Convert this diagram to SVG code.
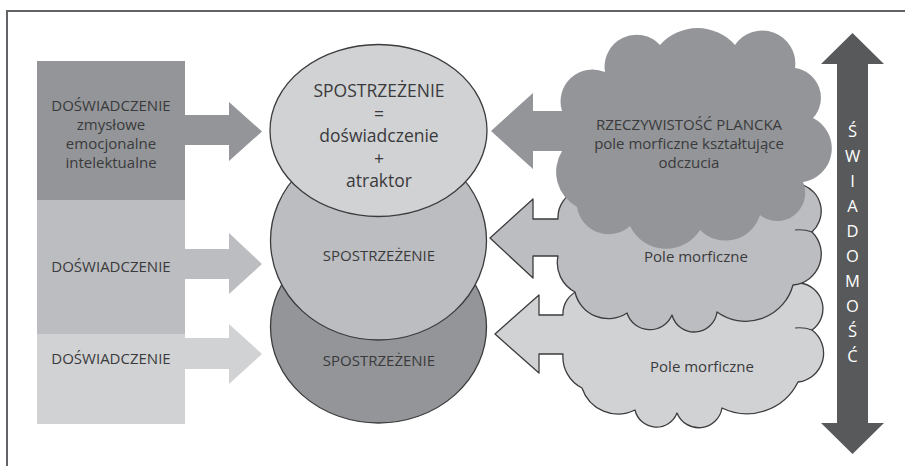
<svg xmlns="http://www.w3.org/2000/svg" width="905" height="466" viewBox="0 0 905 466">
<style>
text{font-family:"Open Sans","Noto Sans","DejaVu Sans",sans-serif;fill:#3a3a3c;text-anchor:middle}
.dk{fill:#939598}
.md{fill:#bcbdc0}
.lt{fill:#d1d2d4}
.ol{stroke:#3c3c3e;stroke-width:1.3;stroke-linejoin:round}
.cusp{fill:none;stroke:#3c3c3e;stroke-width:1.2}
.v{fill:#ffffff;font-size:16.5px}
</style>
<rect width="905" height="466" fill="#ffffff"/>

<g id="box-top">
<rect class="dk" x="37" y="61" width="148" height="139"/>
<text x="111" y="111" font-size="15">DOŚWIADCZENIE</text>
<text x="111" y="130" font-size="15">zmysłowe</text>
<text x="111" y="149" font-size="15">emocjonalne</text>
<text x="111" y="168" font-size="15">intelektualne</text>
</g>
<g id="box-middle">
<rect class="md" x="37" y="200" width="148" height="134"/>
<text x="111" y="271.5" font-size="15">DOŚWIADCZENIE</text>
</g>
<g id="box-bottom">
<rect class="lt" x="37" y="334" width="148" height="90"/>
<text x="111" y="363.5" font-size="15">DOŚWIADCZENIE</text>
</g>

<g id="connectors">
<polygon class="dk" points="184,115 229,115 229,102 262,131.5 229,161 229,145 184,145"/>
<polygon class="md" points="184,249 229,249 229,233 262,264 229,294 229,279 184,279"/>
<polygon class="lt" points="184,338 229,338 229,324 262,354 229,384 229,369 184,369"/>
</g>

<g id="ellipse-bottom">
<ellipse class="dk ol" cx="378.5" cy="327" rx="108" ry="96"/>
<text x="379" y="366" font-size="15">SPOSTRZEŻENIE</text>
</g>
<g id="ellipse-middle">
<ellipse class="md ol" cx="378.5" cy="240.5" rx="108" ry="99.5"/>
<text x="379" y="260.5" font-size="15">SPOSTRZEŻENIE</text>
</g>
<g id="ellipse-top">
<ellipse class="lt ol" cx="378.5" cy="130.5" rx="108.5" ry="86"/>
<text x="379" y="97" font-size="17.5">SPOSTRZEŻENIE</text>
<text x="379" y="119.5" font-size="17.5">=</text>
<text x="379" y="142" font-size="17.5">doświadczenie</text>
<text x="379" y="164.5" font-size="17.5">+</text>
<text x="379" y="187" font-size="17.5">atraktor</text>
</g>

<g id="cloud-bottom">
<path class="lt ol" d="M563,315 H539 V295 L495,334 L539,373 V354 H563 A35,35 0 0 0 582,388 A38,38 0 0 0 635,410 A22,22 0 0 0 677,413 A23.5,23.5 0 0 0 722,408 A57,57 0 0 0 798,382 A29,29 0 0 0 812,330 A26,26 0 0 0 800,283 A70,70 0 0 0 700,268 A70,70 0 0 0 580,290 A25,25 0 0 0 563,315 Z"/>
<path class="cusp" d="M812,330 q-8,-3 -17,-2"/>
<text x="702" y="372" font-size="15">Pole morficzne</text>
</g>
<g id="cloud-middle">
<path class="md ol" d="M558,219 H533 V199 L490,238 L533,278 V256 H558 A33,33 0 0 0 575,292 A34,34 0 0 0 627,313 A24,24 0 0 0 672,315 A23,23 0 0 0 717,312 A49,49 0 0 0 793,285 A31,31 0 0 0 812,232 A28,28 0 0 0 803,185 A60,60 0 0 0 700,172 A70,70 0 0 0 578,190 A29,29 0 0 0 558,219 Z"/>
<path class="cusp" d="M812,232 q-8,-3 -17,-2"/>
<text x="696" y="262" font-size="15">Pole morficzne</text>
</g>
<g id="cloud-top">
<path class="dk" d="M562,111 H533 V93 L491,131 L533,169 V151 H562 A40,40 0 0 0 577,207 A32,32 0 0 0 630,226 A40,40 0 0 0 700,230 A36,36 0 0 0 760,215 A28,28 0 0 0 803,182 A34,34 0 0 0 813,118 A30,30 0 0 0 795,68 A33,33 0 0 0 735,45 A50,50 0 0 0 660,45 A32,32 0 0 0 605,72 A32,32 0 0 0 562,111 Z"/>
<text x="689" y="129.5" font-size="15">RZECZYWISTOŚĆ PLANCKA</text>
<text x="689" y="148.5" font-size="15">pole morficzne kształtujące</text>
<text x="689" y="167.5" font-size="15">odczucia</text>
</g>

<g id="arrow-swiadomosc">
<polygon fill="#58595b" points="852.5,33 884,64 868,64 868,423 884,423 852.5,454 821,423 837,423 837,64 821,64"/>
<text class="v" x="852.5" y="137">Ś</text>
<text class="v" x="852.5" y="162">W</text>
<text class="v" x="852.5" y="187">I</text>
<text class="v" x="852.5" y="212">A</text>
<text class="v" x="852.5" y="237">D</text>
<text class="v" x="852.5" y="262">O</text>
<text class="v" x="852.5" y="287">M</text>
<text class="v" x="852.5" y="312">O</text>
<text class="v" x="852.5" y="337">Ś</text>
<text class="v" x="852.5" y="362">Ć</text>
</g>

<path d="M7,466 V11 H905" fill="none" stroke="#626366" stroke-width="2"/>
</svg>
